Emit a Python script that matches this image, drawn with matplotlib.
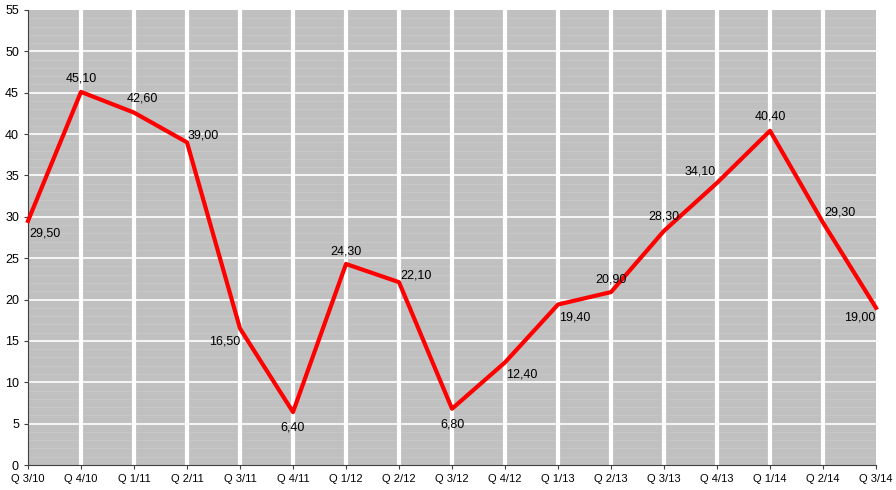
import matplotlib
matplotlib.use("Agg")
import matplotlib.pyplot as plt
import numpy as np

categories = ["Q 3/10","Q 4/10","Q 1/11","Q 2/11","Q 3/11","Q 4/11","Q 1/12","Q 2/12","Q 3/12",
              "Q 4/12","Q 1/13","Q 2/13","Q 3/13","Q 4/13","Q 1/14","Q 2/14","Q 3/14"]
values = [29.5,45.1,42.6,39.0,16.5,6.4,24.3,22.1,6.8,12.4,19.4,20.9,28.3,34.1,40.4,29.3,19.0]
offsets = [(12,-9),(0,10),(6,10),(12,5),(-11,-9),(0,-11),(0,9),(12,5),(0,-11),(12,-9),
           (12,-9),(0,9),(0,10),(-12,8),(0,10),(12,7),(-12,-7)]

fig = plt.figure(figsize=(8.96,4.90), dpi=100)
ax = fig.add_axes([28/896, 25/490, 848/896, 455/490])
ax.set_facecolor("#c0c0c0")
x = np.arange(len(categories))
ax.set_xlim(0, len(categories)-1)
ax.set_ylim(0, 55)
for v in range(1, 55):
    if v % 5:
        ax.axhline(v, color="#c9c9c9", lw=0.6, zorder=1)
    else:
        ax.axhline(v, color="white", lw=1.2, zorder=1)
for xi in x[1:-1]:
    ax.axvline(xi, color="white", lw=3, zorder=1)
ax.plot(x, values, color="#ff0000", lw=3, zorder=3, clip_on=False)
for xi, v, off in zip(x, values, offsets):
    ax.annotate(f"{v:.2f}".replace(".", ","), (xi, v), xytext=off, textcoords="offset points",
                ha="center", va="center", fontsize=9, family="Liberation Sans", zorder=4)
ax.set_xticks(x)
ax.set_xticklabels(categories, fontsize=8, family="Liberation Sans")
ax.set_yticks(range(0, 56, 5))
ax.set_yticklabels([str(v) for v in range(0, 56, 5)], fontsize=9, family="Liberation Sans")
for s in ["top", "right"]:
    ax.spines[s].set_visible(False)
ax.spines["left"].set_color("#404040")
ax.spines["bottom"].set_color("#404040")
ax.tick_params(length=3, color="#404040")
fig.savefig("out.png", dpi=100)
